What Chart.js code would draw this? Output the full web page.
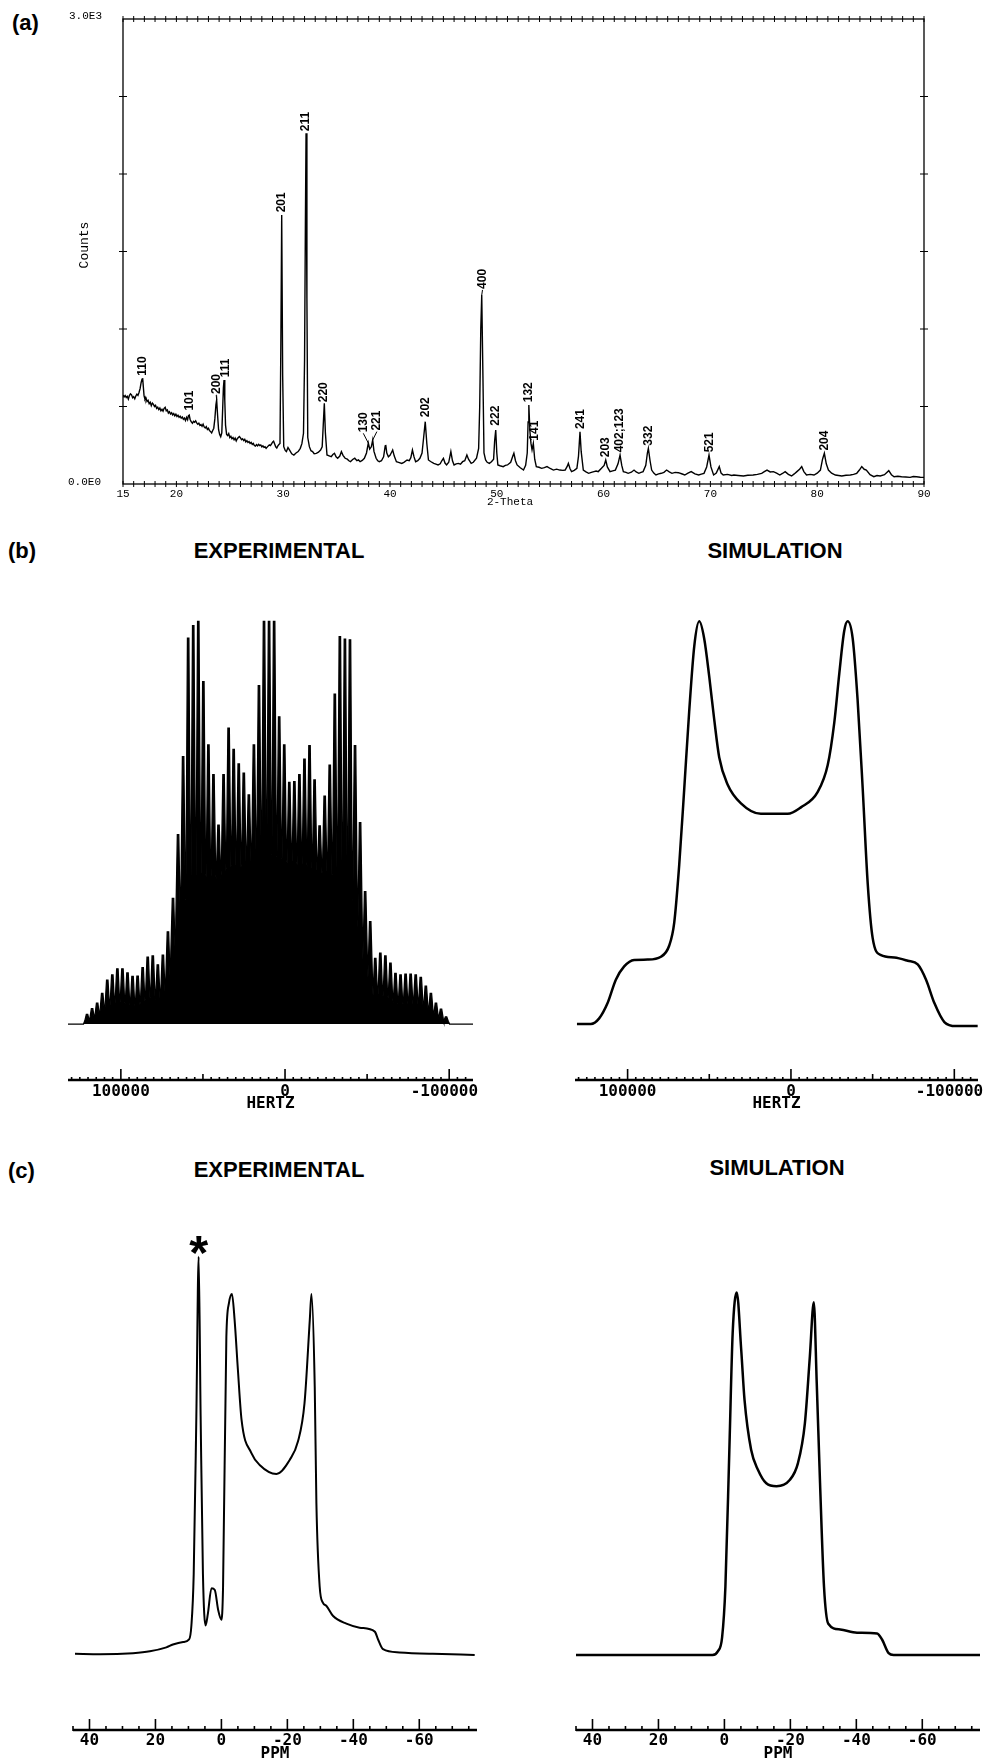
<!DOCTYPE html>
<html>
<head>
<meta charset="utf-8">
<script src="https://cdn.jsdelivr.net/npm/chart.js@4.4.0/dist/chart.umd.min.js"></script>
<style>
  html, body { margin: 0; padding: 0; background: #fff; }
  body { width: 986px; height: 1759px; position: relative; overflow: hidden; font-family: "Liberation Sans", Arial, sans-serif; color: #000; }
  canvas { position: absolute; }
  .tag { position: absolute; font-weight: bold; font-size: 22px; line-height: 1; transform: translateY(-50%); }
  .ttl { position: absolute; font-weight: bold; font-size: 22px; line-height: 1; white-space: nowrap; transform: translate(-50%, -50%); }
</style>
</head>
<body>

<div class="tag" style="left:12px;top:23px">(a)</div>
<div class="tag" style="left:8px;top:551px">(b)</div>
<div class="tag" style="left:8px;top:1171px">(c)</div>
<div class="ttl" style="left:279px;top:551px">EXPERIMENTAL</div>
<div class="ttl" style="left:775px;top:551px">SIMULATION</div>
<div class="ttl" style="left:279px;top:1170px">EXPERIMENTAL</div>
<div class="ttl" style="left:777px;top:1168px">SIMULATION</div>

<canvas id="xrd" width="986" height="530" style="left:0;top:0"></canvas>
<canvas id="bExp" width="493" height="580" style="left:0;top:560px"></canvas>
<canvas id="bSim" width="493" height="580" style="left:493px;top:560px"></canvas>
<canvas id="cExp" width="493" height="569" style="left:0;top:1190px"></canvas>
<canvas id="cSim" width="493" height="569" style="left:493px;top:1190px"></canvas>

<script>
// (a) powder pattern
const xrdTheta = [
  15.0,15.1,15.2,15.3,15.4,15.5,15.6,15.7,15.8,15.9,
  16.0,16.1,16.2,16.3,16.4,16.5,16.6,16.7,16.78,16.84,
  16.9,16.97,17.05,17.15,17.25,17.35,17.45,17.55,17.65,17.75,
  17.85,17.95,18.05,18.15,18.25,18.35,18.45,18.55,18.65,18.75,
  18.85,18.95,19.05,19.15,19.25,19.35,19.45,19.55,19.65,19.75,
  19.85,19.95,20.05,20.15,20.25,20.35,20.45,20.55,20.65,20.75,
  20.85,20.95,21.05,21.12,21.2,21.28,21.38,21.5,21.6,21.7,
  21.8,21.9,22.0,22.1,22.2,22.3,22.4,22.5,22.6,22.7,
  22.8,22.9,23.0,23.1,23.2,23.3,23.4,23.5,23.6,23.7,
  23.77,23.85,23.95,24.05,24.15,24.25,24.33,24.4,24.46,24.53,
  24.6,24.7,24.8,24.9,25.0,25.1,25.2,25.3,25.4,25.5,
  25.6,25.7,25.8,25.9,26.0,26.1,26.2,26.3,26.4,26.5,
  26.6,26.7,26.8,26.9,27.0,27.1,27.2,27.3,27.4,27.5,
  27.6,27.7,27.8,27.9,28.0,28.1,28.2,28.3,28.4,28.5,
  28.6,28.7,28.8,28.9,29.0,29.1,29.2,29.3,29.4,29.5,
  29.6,29.7,
  29.78,29.86,29.95,30.05,30.2,30.3,30.45,30.6,30.8,31.0,31.2,31.4,31.6,31.75,31.9,32.0,32.08,32.14,32.22,32.3,
  32.45,32.6,32.75,32.9,33.1,33.3,33.5,33.65,33.75,33.85,33.95,34.1,34.3,34.5,34.65,34.8,34.95,35.1,35.3,35.45,
  35.6,35.8,36.0,36.15,36.3,36.5,36.7,36.9,37.05,37.2,37.4,37.6,37.8,37.97,38.1,38.25,38.38,38.5,38.7,38.85,
  39.0,39.2,39.4,39.55,39.6,39.7,39.85,40.0,40.15,40.25,40.4,40.6,40.8,41.1,41.3,41.6,41.8,41.95,42.1,42.25,
  42.4,42.6,42.8,43.0,43.15,43.3,43.45,43.6,43.8,44.1,44.3,44.5,44.7,44.85,45.0,45.15,45.3,45.5,45.7,45.85,
  46.0,46.2,46.4,46.6,46.8,47.0,47.2,47.35,47.6,47.8,48.1,48.3,48.4,48.5,48.59,48.7,48.8,48.95,49.1,49.3,
  49.5,49.7,49.8,49.9,50.0,50.1,50.3,50.6,50.8,51.0,51.3,51.5,51.6,51.75,51.9,52.2,52.5,52.7,52.85,52.93,
  53.0,53.1,53.2,53.3,53.42,53.55,53.7,53.95,54.2,54.45,54.7,55.0,55.3,55.6,55.9,56.2,56.4,56.6,56.7,56.85,
  57.0,57.25,57.5,57.65,57.79,57.9,58.1,58.35,58.6,58.85,59.1,59.3,59.5,59.8,60.05,60.2,60.35,60.6,60.85,61.1,
  61.35,61.54,61.7,61.85,62.1,62.3,62.6,62.85,63.05,63.3,63.5,63.7,63.95,64.1,64.19,64.35,64.5,64.7,64.9,65.15,
  65.4,65.65,65.9,66.15,66.4,66.7,67.0,67.3,67.6,67.9,68.2,68.55,68.9,69.15,69.4,69.65,69.87,70.05,70.3,70.55,
  70.83,71.0,71.2,71.6,72.0,72.2,72.6,73.1,73.5,74.0,74.4,74.8,75.05,75.3,75.6,75.9,76.2,76.5,76.75,77.0,
  77.3,77.6,77.85,78.1,78.35,78.55,78.75,79.0,79.35,79.7,80.0,80.3,80.5,80.67,80.85,81.05,81.35,81.7,82.0,82.3,
  82.7,83.1,83.4,83.7,83.95,84.17,84.4,84.6,84.95,85.3,85.6,85.9,86.3,86.7,86.95,87.2,87.55,87.9,88.3,88.7,
  89.0,89.3,89.65,90.0
];
const xrdCounts = [
  574,562,571,558,566,548,570,582,575,556,
  563,550,568,580,572,590,615,655,676,683,
  630,570,548,556,532,540,518,527,505,522,
  514,500,508,488,495,480,490,472,482,470,
  488,495,472,478,458,466,452,460,446,455,
  440,450,436,444,430,438,425,432,418,426,
  410,430,415,440,445,418,402,392,404,398,
  408,394,386,392,378,384,372,386,368,362,
  370,352,360,345,338,330,345,360,420,510,
  542,450,350,320,305,330,480,620,671,540,
  380,320,312,325,300,308,292,300,285,296,
  278,292,300,306,298,286,292,280,288,272,
  280,268,274,262,268,256,262,248,244,254,
  246,256,248,252,240,246,236,240,230,238,
  246,252,248,258,270,276,258,240,232,246,
  255,262,
  900,1735,700,241,215,209,235,219,195,187,200,209,230,260,327,800,1700,2263,1200,300,
  241,215,209,195,198,205,219,240,380,520,330,187,182,176,190,198,175,166,180,209,
  185,166,160,150,144,158,166,150,155,144,152,166,200,264,225,240,284,210,166,150,
  144,150,175,245,252,200,176,185,205,219,180,144,140,133,140,155,150,170,219,175,
  144,150,166,200,300,402,260,155,145,133,128,123,130,150,166,135,123,140,209,150,
  123,130,133,128,144,150,187,160,133,140,166,230,500,1000,1219,700,200,155,140,133,
  144,160,280,348,200,123,118,112,120,123,140,180,198,150,123,105,90,120,200,400,
  510,340,262,220,262,160,112,108,101,106,112,100,90,96,90,88,90,115,133,100,
  80,88,101,180,337,210,90,78,69,75,80,84,80,101,120,155,110,80,85,90,
  130,187,120,80,75,69,76,90,78,69,75,80,120,200,230,150,90,70,58,65,
  69,75,90,78,69,75,73,66,58,70,80,65,58,64,69,110,187,110,58,70,
  112,70,58,62,55,58,55,52,56,58,62,69,80,90,78,80,70,58,68,80,
  62,52,65,80,95,112,80,58,62,58,70,90,160,198,130,90,70,58,55,52,
  56,58,62,69,90,112,95,90,60,47,55,52,60,86,60,47,50,47,45,43,
  48,47,44,43
];
const xrdTickLabels = [15, 20, 30, 40, 50, 60, 70, 80, 90];
const xrdPeakNames = ['110','101','200','111','201','211','220','130','221','202','400','222','132','141','241','203','402;123','332','521','204'];
const xrdPeakTheta = [16.84,21.2,23.77,24.46,29.86,32.14,33.85,37.97,38.38,43.3,48.59,49.9,53.0,53.42,57.79,60.2,61.54,64.19,69.87,80.67];
const xrdPeakTop   = [683,445,542,671,1735,2263,520,264,284,402,1219,348,510,262,337,155,187,230,187,198];
const xrdLabelTheta  = [16.84,21.2,23.73,24.65,29.87,32.12,33.82,37.5,38.77,43.3,48.66,49.9,53.0,53.57,57.85,60.2,61.54,64.19,69.9,80.67];
const xrdLabelCounts = [692,467,574,682,1746,2270,521,327,338,424,1252,370,521,273,348,166,198,241,198,209];

// (b) spectra in hertz
const spinRate = 3080;
const firstSidebandHz = 120600;
const expSpikeTop = [
  2.4,3.8,5.2,7.6,10.9,
  12.2,13.7,13.7,12.7,11.8,11.9,14.0,16.6,16.9,14.7,
  17.1,22.9,31.2,47.0,66.4,95.8,98.9,100,85.0,69.3,
  61.9,49.4,61.9,73.5,68.2,64.6,62.3,56.9,69.3,84.0,
  100,100,100,76.3,69.3,60.0,60.2,61.9,65.8,69.1,
  60.6,49.2,56.6,64.3,81.9,96.2,95.6,95.4,69.1,50.0,
  32.9,25.4,16.3,17.6,16.9,15.1,12.6,12.2,12.4,12.4,
  12.2,11.6,9.4,7.6,5.2,3.7,1.8
];
const expSpikeCore = [
  0.8,1.4,2.0,3.0,4.2,
  4.8,5.4,5.5,5.0,4.6,4.8,5.6,6.6,6.8,6.0,
  7.2,10.5,17.0,26.0,31.0,34.0,36.0,37.0,37.5,36.5,
  37.0,36.0,38.0,39.0,39.5,39.0,40.0,39.5,40.5,41.0,
  42.0,42.5,42.0,41.5,41.0,40.0,40.5,39.5,40.0,39.0,
  38.5,37.5,38.0,37.0,37.5,36.5,35.5,34.0,30.5,24.0,
  16.0,11.5,7.0,7.4,7.0,6.4,5.2,5.0,5.1,5.1,
  5.0,4.8,3.8,3.0,2.0,1.4,0.7
];
const simHz = [131000,122500,117400,112250,107200,102100,96000,87750,79600,74500,71450,68400,65300,62300,59200,56150,53100,50000,47000,43900,
  38800,30600,18400,2000,-6100,-16300,-22500,-26500,-29600,-32600,-34700,-37800,-40800,-43900,-47000,-50000,-55100,-63300,-71500,-77600,
  -82700,-87800,-93900,-101000,-114300];
const simHzAmp = [0,0,1.4,5.2,11.0,14.3,15.9,16.0,16.7,19.5,25.2,39.5,58.6,77.6,93.8,100,95.7,86.2,75.7,66.2,
  59.5,54.8,52.2,52.2,53.8,57.6,64.3,74.8,87.1,97.6,100,95.7,80.5,58.6,34.8,21.4,17.1,16.5,15.7,14.8,
  11.0,5.2,0.5,-0.5,-0.5];
const hzTicks = [100000, 0, -100000];
const hzTickLabels = ['100000', '0', '-100000'];
const hzMid = [50000, -50000];

// (c) spectra in ppm
const expPpm = [44.4,36.8,26.8,21.7,16.7,14.7,11.6,9.8,9.1,8.4,7.6,6.9,6.3,5.6,4.8,4.1,3.0,2.0,1.0,0,
  -0.5,-1.5,-2.3,-3.2,-4.0,-5.0,-6.1,-9.1,-11.6,-16.7,-20.7,-23.2,-25.2,-26.8,-27.3,-28.3,-28.8,-29.8,-30.8,-31.8,
  -33.8,-37.9,-41.9,-46.5,-47.5,-49,-54,-64.1,-76.8];
const expPpmAmp = [-0.2,-0.3,0,0.5,1.6,2.4,3.1,3.8,7.7,22,66,110.4,66,22,7.7,11,18.1,17.6,12.1,9.3,
  18.5,88,97.5,100,92.8,78.9,65,55.7,52.4,49.9,53.8,58.9,69.6,92.8,100,74.2,41.8,18.5,14,13.2,
  10.4,8.2,7.1,6,3.8,1.1,0.2,-0.2,-0.5];
const simPpm = [45.2,3.6,2.0,0.7,-0.3,-1.5,-2.5,-3.75,-5.1,-6.1,-8.1,-10.2,-12.7,-15.8,-19.8,-22.3,-24.4,-25.9,-27.1,-28.0,
  -29.0,-30.2,-31.5,-35.1,-40.2,-46.3,-47.8,-49.8,-51.3,-77.7];
const simPpmAmp = [-0.5,-0.5,0.5,4.4,18.5,56.6,89,100.4,84.4,70.5,56.6,51,47.3,46.5,48.2,52.9,64,82.5,97.7,75.1,
  47.3,18.5,8.2,6.6,5.7,5.5,3.8,0,-0.5,-0.5];
const ppmTicks = [40, 20, 0, -20, -40, -60];
const ppmTickLabels = ['40', '20', '0', '-20', '-40', '-60'];
const starPpm = 6.9, starAmp = 110.4;

const pts = (xs, ys) => xs.map((v, i) => ({ x: v, y: ys[i] }));

function line(ctx, x1, y1, x2, y2) {
  ctx.beginPath(); ctx.moveTo(x1, y1); ctx.lineTo(x2, y2); ctx.stroke();
}

// frame, ticks and labels for the diffractogram
const xrdFrame = {
  id: 'xrdFrame',
  afterDraw(chart) {
    const { ctx, chartArea: a, scales: { x, y } } = chart;
    ctx.save();
    ctx.strokeStyle = '#000'; ctx.fillStyle = '#000';
    ctx.lineWidth = 1.3;
    ctx.strokeRect(a.left, a.top, a.right - a.left, a.bottom - a.top);
    ctx.lineWidth = 1;
    for (let t = 15; t <= 90; t++) {
      const px = x.getPixelForValue(t);
      line(ctx, px, a.top - 3, px, a.top + 3);
      line(ctx, px, a.bottom - 3, px, a.bottom + 3);
    }
    for (let c = 500; c < 3000; c += 500) {
      const py = y.getPixelForValue(c);
      line(ctx, a.left - 4, py, a.left + 4, py);
      line(ctx, a.right - 4, py, a.right + 4, py);
    }
    ctx.font = '11px "Liberation Mono"';
    ctx.textAlign = 'center'; ctx.textBaseline = 'middle';
    xrdTickLabels.forEach(t => ctx.fillText(String(t), x.getPixelForValue(t), a.bottom + 10));
    ctx.fillText('2-Theta', 510, 502);
    ctx.textAlign = 'right';
    ctx.fillText('3.0E3', 102, 16);
    ctx.fillText('0.0E0', 101, 482);
    ctx.save();
    ctx.translate(85, 245); ctx.rotate(-Math.PI / 2);
    ctx.textAlign = 'center'; ctx.font = '13px "Liberation Mono"';
    ctx.fillText('Counts', 0, 0);
    ctx.restore();

    // peak indices
    ctx.font = 'bold 12px "Liberation Sans"';
    ctx.textAlign = 'left'; ctx.textBaseline = 'middle';
    xrdPeakNames.forEach((name, i) => {
      const px = x.getPixelForValue(xrdLabelTheta[i]);
      const py = y.getPixelForValue(xrdLabelCounts[i]);
      const qx = x.getPixelForValue(xrdPeakTheta[i]);
      const qy = y.getPixelForValue(xrdPeakTop[i]);
      if (Math.hypot(px - qx, py - qy) > 4) line(ctx, qx, qy, px, py);
      ctx.save();
      ctx.translate(px, py); ctx.rotate(-Math.PI / 2);
      ctx.fillText(name, 1, 0);
      ctx.restore();
    });
    ctx.restore();
  }
};

new Chart(document.getElementById('xrd'), {
  type: 'line',
  data: { datasets: [{ data: pts(xrdTheta, xrdCounts), borderColor: '#000', borderWidth: 1.4, pointRadius: 0, tension: 0 }] },
  options: {
    responsive: false, animation: false,
    layout: { padding: { left: 123, top: 19, right: 62, bottom: 46 } },
    scales: {
      x: { type: 'linear', min: 15, max: 90, display: false },
      y: { type: 'linear', min: 0, max: 3000, display: false }
    },
    plugins: { legend: { display: false }, tooltip: { enabled: false } }
  },
  plugins: [xrdFrame]
});

// bottom axis of the NMR panels
function spectrumAxis(o) {
  return {
    id: 'spectrumAxis',
    afterDraw(chart) {
      const { ctx, chartArea: a, scales: { x } } = chart;
      const y0 = a.bottom;
      ctx.save();
      ctx.strokeStyle = '#000'; ctx.fillStyle = '#000';
      ctx.lineWidth = 2.4;
      line(ctx, a.left, y0, a.right, y0);
      ctx.lineWidth = 1.6;
      const near = (arr, v) => arr.some(m => Math.abs(m - v) < 1e-6);
      const lo = Math.ceil(x.min / o.minor) * o.minor;
      for (let v = lo; v <= x.max; v += o.minor) {
        const px = x.getPixelForValue(v);
        let len = o.minorLen;
        if (near(o.ticks, v)) len = o.majorLen;
        else if (near(o.mid, v)) len = o.midLen;
        line(ctx, px, y0 + 1, px, y0 - len);
      }
      ctx.font = o.font;
      ctx.textAlign = 'center'; ctx.textBaseline = 'middle';
      o.ticks.forEach((v, i) => {
        const txt = o.labels[i];
        let px = x.getPixelForValue(v);
        if (o.hangMinus && txt[0] === '-') px -= ctx.measureText('-').width / 2;
        ctx.fillText(txt, px, y0 + o.labelDy);
      });
      ctx.fillText(o.title, (a.left + a.right) / 2, y0 + o.titleDy);
      ctx.restore();
    }
  };
}

const hzAxis = {
  minor: 5000, ticks: hzTicks, labels: hzTickLabels, mid: hzMid,
  minorLen: 3, midLen: 6, majorLen: 11, hangMinus: true,
  font: 'bold 16px "DejaVu Sans Mono"', labelDy: 12, titleDy: 24, title: 'HERTZ'
};
const ppmAxis = {
  minor: 5, ticks: ppmTicks, labels: ppmTickLabels, mid: [],
  minorLen: 4, majorLen: 11, midLen: 4, hangMinus: false,
  font: 'bold 16px "DejaVu Sans Mono"', labelDy: 11, titleDy: 24, title: 'PPM'
};

function spectrum(id, datasets, xr, yr, pad, axis, extra) {
  return new Chart(document.getElementById(id), {
    type: 'line',
    data: { datasets },
    options: {
      responsive: false, animation: false,
      layout: { padding: pad },
      scales: {
        x: { type: 'linear', reverse: true, min: xr[0], max: xr[1], display: false },
        y: { type: 'linear', min: yr[0], max: yr[1], display: false }
      },
      plugins: { legend: { display: false }, tooltip: { enabled: false } }
    },
    plugins: [spectrumAxis(axis)].concat(extra || [])
  });
}

// sideband comb for the experimental hertz spectrum
const expHzPts = [{ x: 132200, y: 0 }, { x: firstSidebandHz + spinRate * 0.7, y: 0 }];
expSpikeTop.forEach((h, k) => {
  const f = firstSidebandHz - k * spinRate;
  const c = expSpikeCore[k];
  expHzPts.push({ x: f + 0.44 * spinRate, y: c }, { x: f + 0.14 * spinRate, y: h },
                { x: f - 0.14 * spinRate, y: h }, { x: f - 0.44 * spinRate, y: c });
});
expHzPts.push({ x: firstSidebandHz - (expSpikeTop.length - 0.3) * spinRate, y: 0 }, { x: -114500, y: 0 });

const hzRange = [-114500, 132200];
const hzY = [-13.9, 105.3];
spectrum('bExp', [{ data: expHzPts, borderColor: '#000', borderWidth: 1.3, backgroundColor: '#000', fill: 'origin', pointRadius: 0, tension: 0 }],
  hzRange, hzY, { left: 68, right: 20, top: 40, bottom: 60 }, hzAxis);
spectrum('bSim', [{ data: pts(simHz, simHzAmp), borderColor: '#000', borderWidth: 2.5, pointRadius: 0, cubicInterpolationMode: 'monotone' }],
  hzRange, hzY, { left: 82, right: 8, top: 40, bottom: 60 }, hzAxis);

const starMark = {
  id: 'starMark',
  afterDraw(chart) {
    const { ctx, scales: { x, y } } = chart;
    ctx.save();
    ctx.fillStyle = '#000';
    ctx.font = 'bold 100px "Liberation Sans"';
    const m = ctx.measureText('*');
    const inkW = m.actualBoundingBoxLeft + m.actualBoundingBoxRight;
    const size = 100 * 19 / inkW;
    ctx.font = 'bold ' + size.toFixed(1) + 'px "Liberation Sans"';
    const m2 = ctx.measureText('*');
    const cx = x.getPixelForValue(starPpm);
    const cy = y.getPixelForValue(starAmp) - 12;
    ctx.textAlign = 'left'; ctx.textBaseline = 'alphabetic';
    const bx = cx - (m2.actualBoundingBoxRight - m2.actualBoundingBoxLeft) / 2;
    const by = cy + (m2.actualBoundingBoxAscent - m2.actualBoundingBoxDescent) / 2;
    ctx.fillText('*', bx, by);
    ctx.restore();
  }
};

const ppmRange = [-77.5, 45];
const ppmY = [-21.4, 120.6];
spectrum('cExp', [{ data: pts(expPpm, expPpmAmp), borderColor: '#000', borderWidth: 2, pointRadius: 0, cubicInterpolationMode: 'monotone' }],
  ppmRange, ppmY, { left: 73, right: 16, top: 30, bottom: 29 }, ppmAxis, [starMark]);
spectrum('cSim', [{ data: pts(simPpm, simPpmAmp), borderColor: '#000', borderWidth: 2.5, pointRadius: 0, cubicInterpolationMode: 'monotone' }],
  ppmRange, ppmY, { left: 83, right: 6, top: 30, bottom: 29 }, ppmAxis);
</script>
</body>
</html>
